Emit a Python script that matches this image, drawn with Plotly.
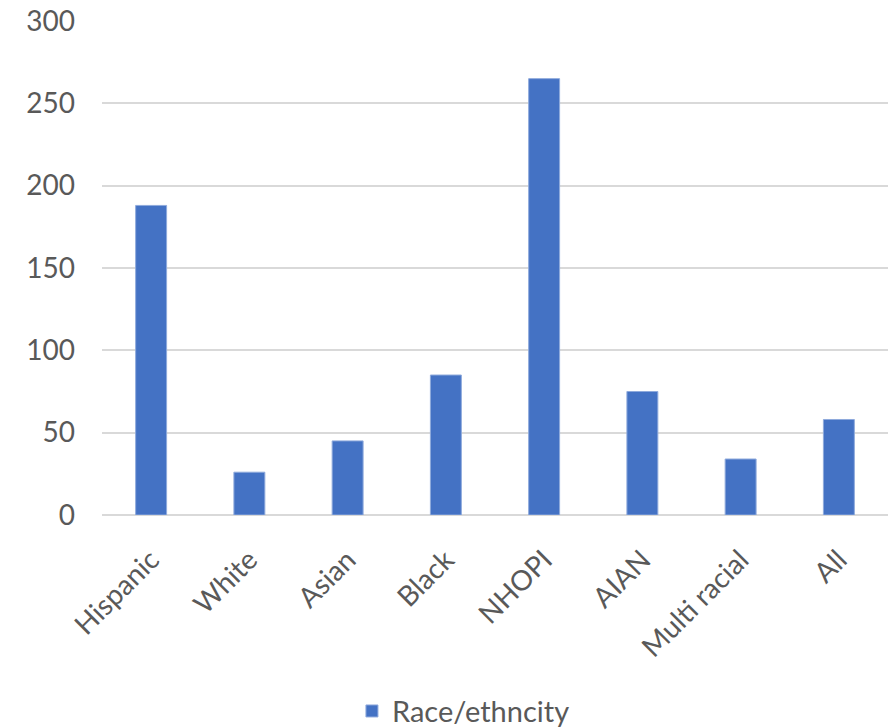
import plotly.graph_objects as go

categories = ["Hispanic", "White", "Asian", "Black", "NHOPI", "AIAN", "Multi racial", "All"]
values = [188, 26, 45, 85, 265, 75, 34, 58]
series_name = "Race/ethncity"
y_ticks = [0, 50, 100, 150, 200, 250, 300]

fig = go.Figure()
fig.add_trace(go.Bar(
    x=categories, y=values, name=series_name,
    marker=dict(color="#4472C4", line=dict(color="#8FAADC", width=1)),
    showlegend=True,
))

font_family = "Lato, Calibri, Carlito, sans-serif"
fig.update_layout(
    width=895, height=727,
    margin=dict(l=102, r=7, t=21, b=212, autoexpand=False),
    paper_bgcolor="white", plot_bgcolor="white",
    bargap=0.685,
    font=dict(family=font_family, size=28, color="#595959"),
    showlegend=True,
    legend=dict(orientation="h", x=0.318, xanchor="left", y=-0.397, yanchor="middle",
                font=dict(size=29, color="#595959")),
    xaxis=dict(tickangle=-45, showgrid=False, showline=False, ticks="", automargin=False,
               ticklabelstandoff=22, tickfont=dict(size=28, color="#595959")),
    yaxis=dict(range=[0, 300], tickvals=y_ticks, showgrid=True, gridcolor="#D9D9D9",
               gridwidth=1.5, zeroline=True, zerolinecolor="#D9D9D9", zerolinewidth=1.5,
               showline=False, ticks="", ticklabelstandoff=26, automargin=False,
               tickfont=dict(size=28, color="#595959")),
)

fig.write_html("out.html")
